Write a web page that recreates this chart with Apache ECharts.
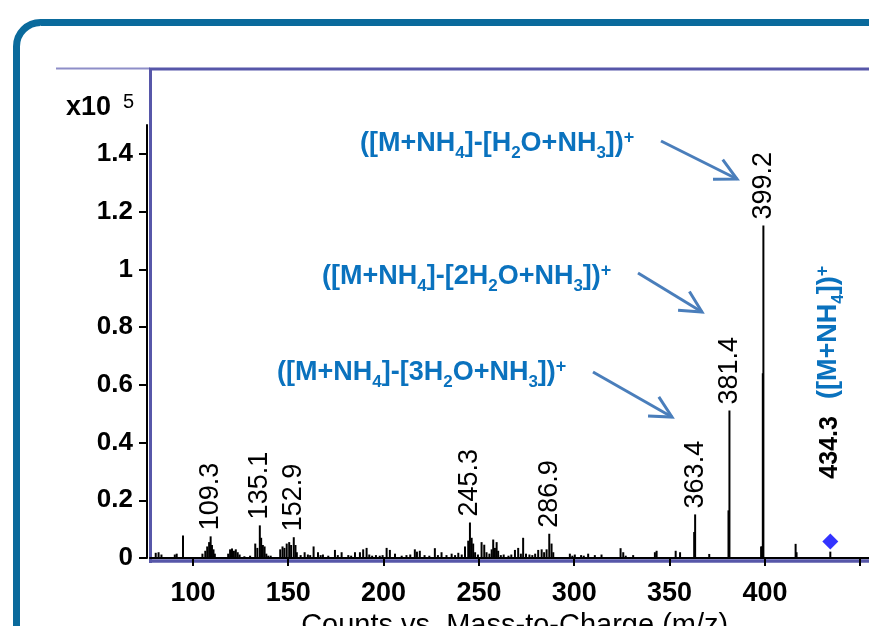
<!DOCTYPE html>
<html><head><meta charset="utf-8">
<script src="https://cdn.jsdelivr.net/npm/echarts@6/dist/echarts.min.js"></script>
<style>html,body{margin:0;padding:0;background:#fff}#c{width:869px;height:626px}</style>
</head><body><div id="c"></div>
<script>
// ---- data (m/z, intensity in units of 10^5 counts) ----
const mzValues = [80.5,82,83.5,90.5,91.5,94.8,105,106.5,107.5,108.5,109.3,110,110.8,111.5,118.5,119.5,120.5,121.5,122.5,123.5,124.5,127,130,132.7,133.8,135.1,135.8,136.7,137.6,138.5,139.5,140.8,145.8,147,148,149.2,150.5,151.5,152.9,153.8,154.5,156.5,158.6,160.3,161.5,163.3,165.6,167,168.2,171,174.5,176,178,181.5,183,185,187.6,189.3,191.1,192.5,194,196,198,199.5,201.6,203.3,206,209.5,212,214,216.4,217.5,219,221.5,224,226.9,228.5,230.4,233,235.7,237.5,239.2,241,242.7,244.4,245.3,246.2,247,248,249.5,251.4,252.8,254,255.5,256.7,257.5,258.4,259.3,260.1,261.5,263,265.5,267,268.9,270.6,272,273.2,274.7,276.5,278,279.5,281.1,282.9,284.2,285.5,286.9,288.1,289,297.7,299,300.3,303.6,305,307.3,310.8,314.3,324.3,325.7,327,330.9,342.3,343.2,353.2,355.5,362.9,363.4,370.8,380.9,381.4,398,398.5,398.9,399.2,416.1,416.6,434.3];
const intensities = [0.018,0.02,0.012,0.012,0.015,0.078,0.015,0.025,0.04,0.055,0.075,0.045,0.03,0.015,0.015,0.03,0.033,0.025,0.03,0.02,0.012,0.006,0.008,0.05,0.035,0.113,0.07,0.045,0.04,0.015,0.008,0.008,0.03,0.04,0.035,0.05,0.055,0.045,0.072,0.045,0.02,0.01,0.02,0.012,0.01,0.04,0.02,0.01,0.012,0.008,0.028,0.01,0.02,0.01,0.008,0.02,0.02,0.03,0.035,0.012,0.008,0.01,0.008,0.01,0.035,0.028,0.015,0.008,0.01,0.012,0.03,0.022,0.025,0.01,0.008,0.034,0.01,0.02,0.01,0.015,0.01,0.018,0.012,0.04,0.06,0.123,0.07,0.05,0.02,0.012,0.055,0.046,0.02,0.015,0.03,0.064,0.035,0.055,0.025,0.01,0.012,0.008,0.012,0.028,0.035,0.015,0.07,0.015,0.012,0.01,0.015,0.028,0.03,0.02,0.03,0.084,0.05,0.02,0.015,0.008,0.012,0.01,0.008,0.015,0.01,0.012,0.034,0.02,0.008,0.01,0.02,0.025,0.025,0.02,0.09,0.151,0.014,0.165,0.511,0.04,0.04,0.64,1.152,0.049,0.02,0.022];
const labeledPeaks = [109.3,135.1,152.9,245.3,286.9,363.4,381.4,399.2];
const precursor = [434.3, 0.057];
const xTicks = [100,150,200,250,300,350,400,450];
const xTickLabels = [100,150,200,250,300,350,400];
const yTicks = [0,0.2,0.4,0.6,0.8,1,1.2,1.4];
const xRange = [77.5, 460];
const yMax = 1.5;
const xTitle = 'Counts vs. Mass-to-Charge (m/z)';
const yMultiplier = ['x10', '5'];
const annoTop = '{m|([M+NH}{s|4}{m|]-[H}{s|2}{m|O+NH}{s|3}{m|])}{p|+}';
const annoMid = '{m|([M+NH}{s|4}{m|]-[2H}{s|2}{m|O+NH}{s|3}{m|])}{p|+}';
const annoLow = '{m|([M+NH}{s|4}{m|]-[3H}{s|2}{m|O+NH}{s|3}{m|])}{p|+}';
const annoPrec = '{m|([M+NH}{s|4}{m|])}{p|+}';

// ---- build ----
const FONT = "'Liberation Sans', Arial, sans-serif";
const stickData = mzValues.map((m, i) => {
  const item = { value: [m, intensities[i]] };
  if (labeledPeaks.includes(m)) {
    item.label = {
      show: true, position: 'top', rotate: 90, align: 'left', verticalAlign: 'middle',
      distance: 6, formatter: m.toFixed(1), color: '#000', fontSize: 27, fontFamily: FONT
    };
  } else if (m === precursor[0]) {
    item.label = {
      show: true, position: 'top', rotate: 90, align: 'left', verticalAlign: 'middle',
      distance: 73, formatter: m.toFixed(1), color: '#000', fontSize: 25, fontWeight: 'bold', fontFamily: FONT
    };
  }
  return item;
});

const BLUE = '#0A72BE';
const rich = {
  m: { fontSize: 27, fontWeight: 'bold', fontFamily: FONT, fill: BLUE, lineHeight: 27, verticalAlign: 'top', padding: [6, 0, 0, 0] },
  s: { fontSize: 17, fontWeight: 'bold', fontFamily: FONT, fill: BLUE, lineHeight: 17, verticalAlign: 'top', padding: [20, 0, 0, 0] },
  p: { fontSize: 18, fontWeight: 'bold', fontFamily: FONT, fill: BLUE, lineHeight: 18, verticalAlign: 'top', padding: [4.5, 0, 0, 0] }
};
function annoText(txt, x, y, rot) {
  return { type: 'text', x: x, y: y, rotation: rot || 0, z: 100,
    style: { text: txt, rich: rich, x: 0, y: 0, align: 'left', verticalAlign: 'top' } };
}
function arrow(sx, sy, tx, ty) {
  const ang = Math.atan2(ty - sy, tx - sx), L = 24, a = 27 * Math.PI / 180;
  const b1 = [tx - L * Math.cos(ang - a), ty - L * Math.sin(ang - a)];
  const b2 = [tx - L * Math.cos(ang + a), ty - L * Math.sin(ang + a)];
  return [
    { type: 'polyline', z: 100, shape: { points: [[sx, sy], [tx, ty]] }, style: { stroke: '#4A7EBB', lineWidth: 3, fill: null } },
    { type: 'polyline', z: 100, shape: { points: [b1, [tx, ty], b2] }, style: { stroke: '#4A7EBB', lineWidth: 3, fill: null } }
  ];
}
const PURPLE = '#5757A9';
const graphics = [
  { type: 'rect', z: 0, shape: { x: 16.5, y: 22.5, width: 1000, height: 1000, r: 24 }, style: { fill: 'none', stroke: '#0A6A9C', lineWidth: 7 } },
  { type: 'line', z: 0, shape: { x1: 56, y1: 68.5, x2: 150, y2: 68.5 }, style: { stroke: '#8E8EC8', lineWidth: 2 } },
  { type: 'line', z: 0, shape: { x1: 149, y1: 69, x2: 900, y2: 69 }, style: { stroke: PURPLE, lineWidth: 3 } },
  { type: 'line', z: 0, shape: { x1: 150.5, y1: 68, x2: 150.5, y2: 563 }, style: { stroke: PURPLE, lineWidth: 3 } },
  { type: 'line', z: 0, shape: { x1: 149, y1: 561, x2: 900, y2: 561 }, style: { stroke: PURPLE, lineWidth: 3.5 } },
  { type: 'text', z: 100, x: 66, y: 108, style: { text: yMultiplier[0], font: "bold 27px " + FONT, fill: '#000', align: 'left', verticalAlign: 'middle' } },
  { type: 'text', z: 100, x: 123, y: 102, style: { text: yMultiplier[1], font: "20px " + FONT, fill: '#000', align: 'left', verticalAlign: 'middle' } },
  annoText(annoTop, 360, 124.5),
  annoText(annoMid, 322, 257.5),
  annoText(annoLow, 277, 353.5),
  annoText(annoPrec, 809.5, 399, Math.PI / 2)
].concat(arrow(661, 141, 737, 179), arrow(638, 273, 702, 312), arrow(593, 372, 672, 417));

const chart = echarts.init(document.getElementById('c'), null, { renderer: 'canvas' });
chart.setOption({
  animation: false,
  backgroundColor: '#fff',
  grid: { left: 150, top: 125, width: (xRange[1] - xRange[0]) * 1.9067, height: 433, containLabel: false, outerBoundsMode: 'none' },
  xAxis: {
    type: 'value', min: xRange[0], max: xRange[1], offset: 7,
    name: xTitle, nameLocation: 'middle', nameGap: 45,
    nameTextStyle: { fontSize: 29, fontFamily: FONT, color: '#000', verticalAlign: 'top' },
    axisLine: { show: true, lineStyle: { color: '#000', width: 2 } },
    axisTick: { show: true, length: 8, lineStyle: { color: '#000', width: 2 }, customValues: xTicks },
    axisLabel: { customValues: xTickLabels, fontSize: 27, fontWeight: 'bold', fontFamily: FONT, color: '#000', margin: 15 },
    splitLine: { show: false }
  },
  yAxis: {
    type: 'value', min: 0, max: yMax, offset: 3,
    axisLine: { show: true, lineStyle: { color: '#000', width: 2 } },
    axisTick: { show: true, length: 8, lineStyle: { color: '#000', width: 2 }, customValues: yTicks },
    axisLabel: { customValues: yTicks, fontSize: 26, fontWeight: 'bold', fontFamily: FONT, color: '#000', margin: 14,
      formatter: v => String(Math.round(v * 10) / 10) },
    splitLine: { show: false }
  },
  series: [
    {
      type: 'bar', barWidth: 2, data: stickData, itemStyle: { color: '#000' },
      markLine: { silent: true, symbol: 'none', label: { show: false }, data: [{ yAxis: 0 }],
        lineStyle: { color: '#000', width: 1.5, type: 'solid' } }
    },
    {
      type: 'scatter', symbol: 'diamond', symbolSize: 16, data: [precursor], itemStyle: { color: '#0000FF' }
    }
  ],
  graphic: graphics
});
</script></body></html>
